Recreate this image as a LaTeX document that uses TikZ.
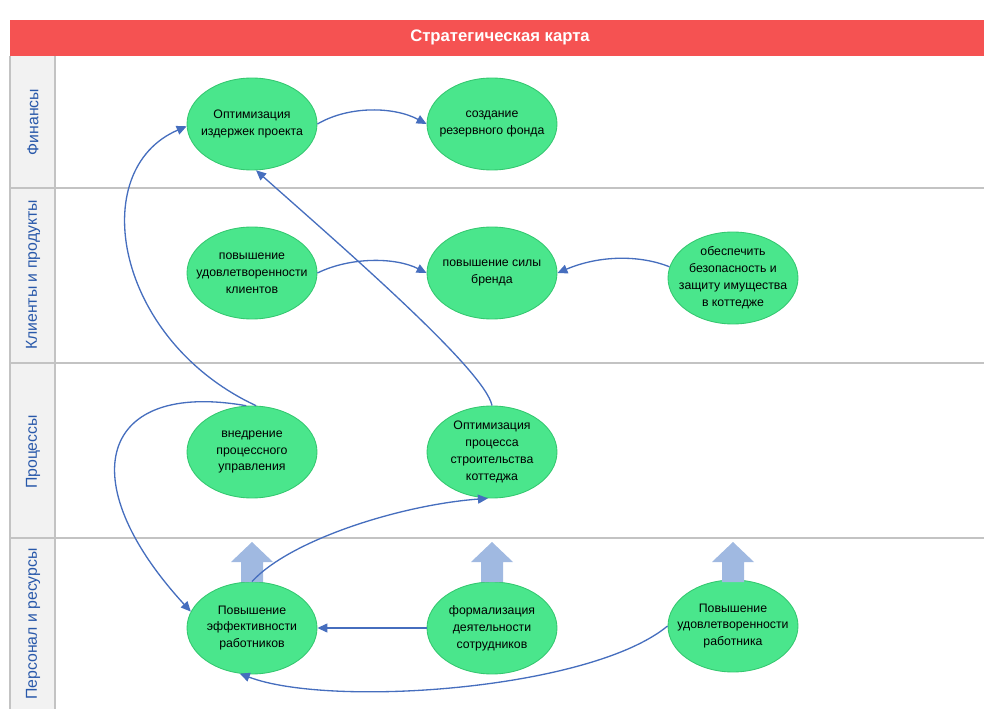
\documentclass[tikz,border=0pt]{standalone}
\usepackage{fontspec}
\setmainfont{Liberation Sans}
\usepackage{tikz}
\usetikzlibrary{shapes.geometric, arrows.meta, positioning}
\definecolor{headred}{RGB}{245, 82, 82}
\definecolor{lanegray}{RGB}{242, 242, 242}
\definecolor{sepgray}{RGB}{195, 195, 195}
\definecolor{laneblue}{RGB}{40, 88, 170}
\definecolor{goalgreen}{RGB}{74, 230, 140}
\definecolor{goaledge}{RGB}{52, 200, 112}
\definecolor{linkblue}{RGB}{70, 110, 190}
\definecolor{liftblue}{RGB}{160, 185, 225}

\tikzset{
  goal/.style={ellipse, draw=goaledge, fill=goalgreen, line width=0.5pt,
    minimum width=2.6cm, minimum height=1.84cm, inner xsep=-8pt, inner ysep=-4pt,
    align=center, font=\fontsize{7}{9.6}\selectfont},
  link/.style={draw=linkblue, line width=0.75pt, -{Triangle[length=2mm, width=1.8mm]}},
  lanelabel/.style={rotate=90, text=laneblue, font=\fontsize{9}{10}\selectfont},
  laneline/.style={draw=sepgray, line width=1.1pt}
}

\begin{document}
\begin{tikzpicture}[x=0.02cm, y=-0.02cm]
\useasboundingbox (0,0) rectangle (984,709);
% header and lane column
\fill[headred] (10,20) rectangle (984,56);
\node[text=white, font=\bfseries\fontsize{9.5}{11}\selectfont] (title) at (500,37) {Стратегическая карта};
\fill[lanegray] (10,56) rectangle (55,709);
\draw[sepgray, line width=0.6pt] (10,56) -- (10,709);
\draw[sepgray, line width=0.6pt] (55,56) -- (55,709);
\foreach \y in {188,363,538}
  \draw[laneline] (10,\y) -- (984,\y);
\node[lanelabel] (lfin) at (33,122) {Финансы};
\node[lanelabel] (lcli) at (33,275) {Клиенты и продукты};
\node[lanelabel] (lproc) at (33,452) {Процессы};
\node[lanelabel] (lpers) at (33,624) {Персонал и ресурсы};

% goals
\node[goal] (f1) at (252,124) {Оптимизация\\издержек проекта};
\node[goal] (f2) at (492,124) {создание\\резервного фонда};
\node[goal] (c1) at (252,273) {повышение\\удовлетворенности\\клиентов};
\node[goal] (c2) at (492,273) {повышение силы\\бренда};
\node[goal] (c3) at (733,278) {обеспечить\\безопасность и\\защиту имущества\\в коттедже};
\node[goal] (p1) at (252,452) {внедрение\\процессного\\управления};
\node[goal] (p2) at (492,452) {Оптимизация\\процесса\\строительства\\коттеджа};
\node[goal] (r1) at (252,628) {Повышение\\эффективности\\работников};
\node[goal] (r2) at (492,628) {формализация\\деятельности\\сотрудников};
\node[goal] (r3) at (733,626) {Повышение\\удовлетворенности\\работника};

% lift arrows
\foreach \x in {252,492,733}
  \fill[liftblue] (\x-21,562) -- (\x,542) -- (\x+21,562) -- (\x+11,562)
    -- (\x+11,582) -- (\x-11,582) -- (\x-11,562) -- cycle;

% links
\draw[link] (f1.east) .. controls (350,105) and (395,107) .. (f2.west);
\draw[link] (c1.east) .. controls (350,257) and (395,257) .. (c2.west);
\draw[link] (c3.170) .. controls (640,255) and (600,255) .. (c2.east);
\draw[link] (p1.85) .. controls (115,340) and (85,170) .. (f1.182);
\draw[link] (p2.north) .. controls (485,370) and (340,245) .. (f1.275);
\draw[link] (p1.97) .. controls (100,380) and (70,480) .. (r1.165);
\draw[link] (r1.north) .. controls (290,540) and (400,505) .. (p2.265);
\draw[link] (r2.west) -- (r1.east);
\draw[link] (r3.west) .. controls (590,690) and (330,708) .. (r1.255);
\end{tikzpicture}
\end{document}
